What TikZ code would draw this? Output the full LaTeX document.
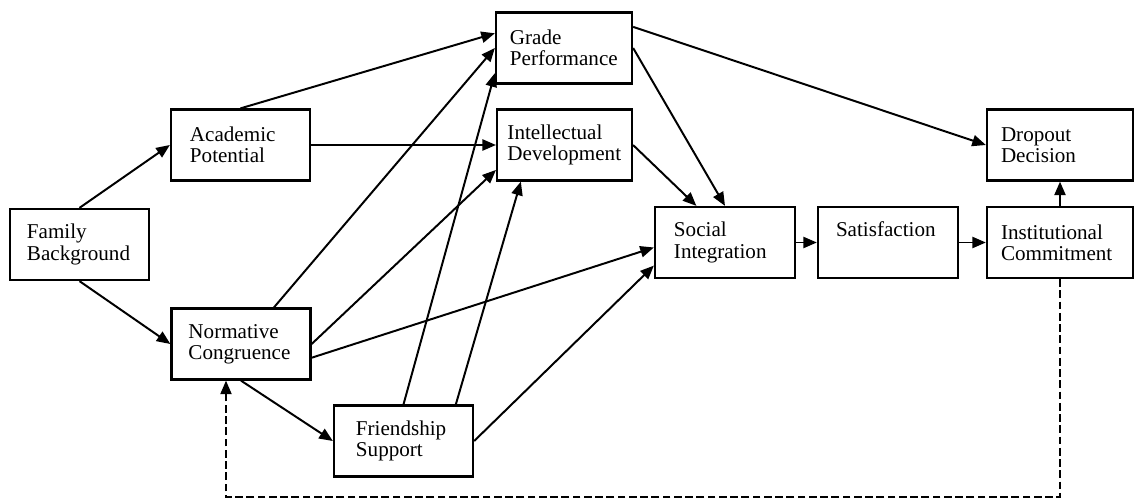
\documentclass[tikz,border=0pt]{standalone}
\usepackage{fontspec}
\setmainfont{Liberation Serif}
\usetikzlibrary{arrows.meta}

\begin{document}
\begin{tikzpicture}[x=0.025cm, y=-0.025cm,
        factor/.style={draw, line width=1.6pt, minimum height=1.775cm,
            inner xsep=0.425cm, text width=2.625cm,
            align=left, font=\fontsize{15pt}{15pt}\selectfont},
        link/.style={line width=1.4pt, -{Triangle[length=3.4mm, width=2.8mm]}},
        feedback/.style={line width=1.2pt, dash pattern=on 5.5pt off 2.5pt,
            -{Triangle[length=3.4mm, width=2.8mm]}}]
        \useasboundingbox (0,0) rectangle (1136,500);

        % Define the boxes
        \node[factor] (fam) at (79.5,244.5) {Family\\Background};
        \node[factor, inner xsep=0.475cm, text width=2.525cm] (acad) at (240.5,145) {Academic\\Potential};
        \node[factor] (norm) at (241,344) {Normative\\Congruence};
        \node[factor, inner xsep=0.55cm, text width=2.375cm] (friend) at (403.5,441) {Friendship\\Support};

        \node[factor, inner xsep=0.35cm, text width=2.7cm] (grade) at (564,48) {Grade\\Performance};
        \node[factor, inner xsep=0.26cm, text width=2.85cm] (intel) at (564.5,145) {Intellectual\\Development};

        \node[factor, inner xsep=0.475cm, text width=2.55cm] (social) at (725,242.5) {Social\\Integration};
        \node[factor, inner xsep=0.45cm, text width=2.6cm] (satis) at (888,242.5) {Satisfaction\\\strut};
        \node[factor, inner xsep=0.35cm, text width=2.95cm] (inst) at (1060,242.5) {Institutional\\Commitment};
        \node[factor, inner xsep=0.35cm, text width=2.95cm] (drop) at (1060,145) {Dropout\\Decision};

        \coordinate (loop) at (226,497);

        % Define the paths
        \draw[link] (fam.north) -- (acad.west);
        \draw[link] (fam.south) -- (norm.west);

        \draw[link] (acad.north) -- (grade.168);
        \draw[link] (acad.east) -- (intel.west);

        \draw[link] (norm.48) -- (grade.west);
        \draw[link] (norm.east) -- (intel.200);
        \draw[link] (norm.-11) -- (social.184);
        \draw[link] (norm.south) -- (friend.west);

        \draw[link] (friend.north) -- (grade.200);
        \draw[link] (friend.35) -- (intel.220);
        \draw[link] (friend.east) -- (social.198);

        \draw[link] (grade.east) -- (social.north);
        \draw[link] (intel.east) -- (social.128);
        \draw[link] (grade.17) -- (drop.west);

        \draw[link] (social.east) -- (satis.west);
        \draw[link] (satis.east) -- (inst.west);
        \draw[link] (inst.north) -- (drop.south);

        % Feedback loop
        \draw[feedback] (inst.south) |- (loop) -- (loop |- norm.south);

    \end{tikzpicture}
\end{document}
